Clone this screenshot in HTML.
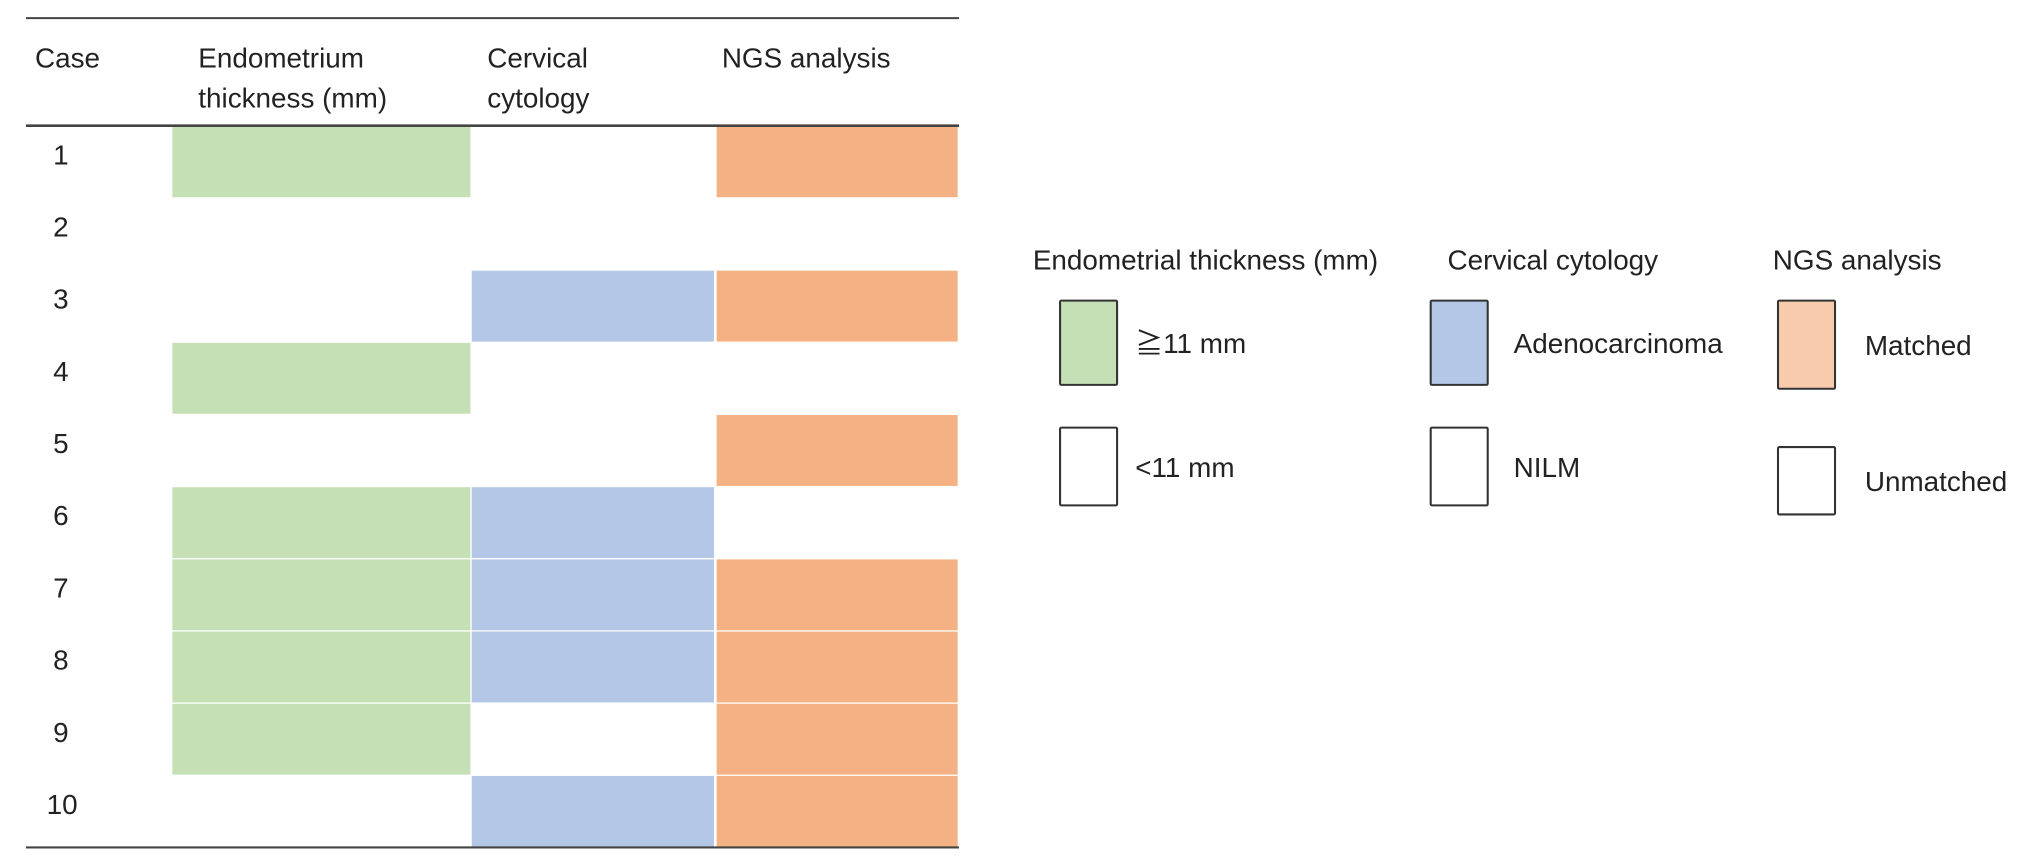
<!DOCTYPE html>
<html><head><meta charset="utf-8"><style>
html,body{margin:0;padding:0;background:#fff;}
svg{display:block;}
text{font-family:"Liberation Sans","Noto Sans CJK JP",sans-serif;fill:#222;font-size:21.5px;}
</style></head><body>
<svg id="chart" width="2032" height="863" viewBox="0 0 1568 666" preserveAspectRatio="none">
<g id="table"></g>
<g id="legend"></g>
</svg>
<script>
const cases = ["1","2","3","4","5","6","7","8","9","10"];
const endometrium = [1,0,0,1,0,1,1,1,1,0];
const cytology = [0,0,1,0,0,1,1,1,0,1];
const ngs = [1,0,1,0,1,0,1,1,1,1];

const NS="http://www.w3.org/2000/svg";
function mk(tag,attrs,parent){const e=document.createElementNS(NS,tag);for(const k in attrs)e.setAttribute(k,attrs[k]);parent.appendChild(e);return e;}
const T=document.getElementById('table'), L=document.getElementById('legend');
const top0=97, bottom=654, rowH=(bottom-top0)/cases.length;
const rowY=i=>top0+i*rowH;
const cols=[{x:133,w:230,data:endometrium,c:"#c5e0b4",n:"endometrium"},{x:364,w:187,data:cytology,c:"#b4c7e7",n:"cytology"},{x:553,w:186,data:ngs,c:"#f4b183",n:"ngs"}];
cols.forEach(col=>{col.data.forEach((v,i)=>{if(!v)return;
 const r=mk('rect',{x:col.x,y:rowY(i)+0.5,width:col.w,height:rowH-1,fill:col.c},T);
 
 
});});
cases.forEach((c,i)=>{const t=mk('text',{x:c.length>1?36:41,y:rowY(i)+rowH/2+2},T);t.textContent=c;
 
 });
[[14,1.6],[97,2],[654,1.6]].forEach(([y,w],k)=>{const l=mk('line',{x1:20,x2:740,y1:y,y2:y,stroke:'#444','stroke-width':w},T);
 
 });
const hdr=[["Case",27,52],["Endometrium",153,52],["thickness (mm)",153,83],["Cervical",376,52],["cytology",376,83],["NGS analysis",557,52]];
hdr.forEach(h=>{const t=mk('text',{x:h[1],y:h[2]},T);t.textContent=h[0];
 
 });
const legendGroups=[
 {title:"Endometrial thickness (mm)",tx:797,bx:818,lx:876,items:[["≧11 mm","#c5e0b4",232,297],["<11 mm","#fff",330,390]]},
 {title:"Cervical cytology",tx:1117,bx:1104,lx:1168,items:[["Adenocarcinoma","#b4c7e7",232,297],["NILM","#fff",330,390]]},
 {title:"NGS analysis",tx:1368,bx:1372,lx:1439,items:[["Matched","#f8cbad",232,300],["Unmatched","#fff",345,397]]}];
legendGroups.forEach(g=>{const t=mk('text',{x:g.tx,y:208},L);t.textContent=g.title;
 
 
 g.items.forEach(it=>{const r=mk('rect',{x:g.bx,y:it[2],width:44,height:it[3]-it[2],fill:it[1],stroke:'#333','stroke-width':1.6,rx:1},L);
  
  
  const lt=mk('text',{x:g.lx,y:(it[2]+it[3])/2+8},L);lt.textContent=it[0];
  
  });});
</script>
</body></html>
